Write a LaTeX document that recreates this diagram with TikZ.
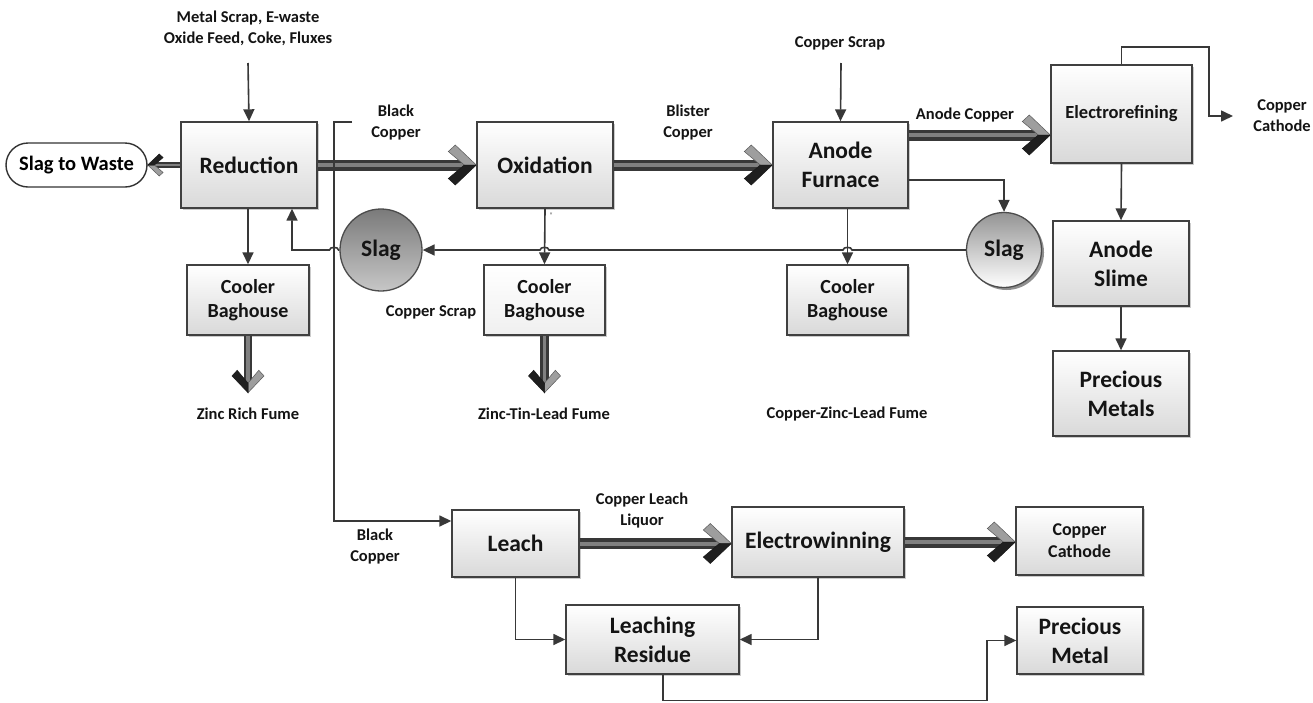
\documentclass[tikz,border=0pt]{standalone}
\usepackage{fontspec}
\setmainfont{Carlito}
\usetikzlibrary{arrows.meta,shadows,calc}
\newcommand\fatarrow[4][1]{%
  \draw[line width=#1*11pt, draw=black!78, shorten >=#1*10pt] (#2) -- (#3);
  \draw[line width=#1*4pt, draw=black!50, shorten >=#1*12pt, shorten <=0.6pt] (#2) -- (#3);
  \begin{scope}[shift={(#3)}, rotate=#4, scale=#1]
    \filldraw[fill=black!38, draw=black!65, line width=0.5pt] (0,0) -- (-21,-20) -- (-28,-13.5) -- (-12,0) -- cycle;
    \filldraw[fill=black!88, draw=black!90, line width=0.5pt] (0,0) -- (-21,20) -- (-28,13.5) -- (-12,0) -- cycle;
  \end{scope}}
\begin{document}
\begin{tikzpicture}[x=1pt,y=-1pt,
  box/.style={rectangle, draw=black!75, line width=1.4pt, top color=white, bottom color=black!15,
    drop shadow={shadow xshift=2pt,shadow yshift=-2pt,fill=black!40,opacity=0.5},
    align=center, inner sep=0pt, text=black!92, font=\bfseries\fontsize{23.5}{29}\selectfont},
  midbox/.style={box, font=\bfseries\fontsize{20}{24}\selectfont},
  lbl/.style={align=center, inner sep=0pt, text=black!92, font=\bfseries\fontsize{16.5}{21}\selectfont},
  conn/.style={draw=black!78, line width=1.6pt},
  tip/.style={-{Triangle[length=12pt,width=11pt]}},
  slag/.style={circle, draw=black!70, line width=1.3pt, inner sep=0pt, text=black!92,
    font=\bfseries\fontsize{23.5}{29}\selectfont}
]
\fill[white] (0,0) rectangle (1313,702);
\useasboundingbox (0,0) rectangle (1313,702);

% ---------- nodes ----------
\node[box, minimum width=136pt, minimum height=86pt] (red) at (249,165) {Reduction};
\node[box, minimum width=136pt, minimum height=86pt] (ox) at (545,165) {Oxidation};
\node[box, minimum width=135pt, minimum height=86pt] (af) at (840.5,165) {Anode\\Furnace};
\node[box, minimum width=141pt, minimum height=98pt, font=\bfseries\fontsize{18.5}{22}\selectfont] (er) at (1121.5,114) {Electrorefining};
\node[box, minimum width=136pt, minimum height=85pt] (sl) at (1121,263.5) {Anode\\Slime};
\node[box, minimum width=136pt, minimum height=85pt] (pm) at (1121,393.5) {Precious\\Metals};
\node[midbox, minimum width=122pt, minimum height=70pt] (cb1) at (248,300) {Cooler\\Baghouse};
\node[midbox, minimum width=121pt, minimum height=70pt, top color=white, bottom color=black!6] (cb2) at (544.5,300) {Cooler\\Baghouse};
\node[midbox, minimum width=121pt, minimum height=70pt] (cb3) at (847.5,300) {Cooler\\Baghouse};
\node[rectangle, rounded corners=22pt, draw=black!80, line width=1.4pt, fill=white, minimum width=141pt, minimum height=44pt,
  inner sep=0pt, font=\bfseries\fontsize{20.5}{24}\selectfont] (sw) at (76.5,165) {Slag to Waste};
\node[slag, minimum size=82pt, top color=black!52, bottom color=black!22] (s1) at (381,250) {Slag};
\node[slag, minimum size=75pt, top color=black!42, bottom color=white,
  drop shadow={shadow xshift=2.5pt,shadow yshift=-2.5pt,fill=black!55,opacity=0.8}] (s2) at (1004,250) {Slag};
\node[box, minimum width=127pt, minimum height=67pt] (leach) at (515.5,543.5) {Leach};
\node[box, minimum width=172pt, minimum height=70pt] (ew) at (818,542) {Electrowinning};
\node[box, minimum width=127pt, minimum height=68pt, font=\bfseries\fontsize{18}{22}\selectfont] (cc) at (1079.5,541) {Copper\\Cathode};
\node[box, minimum width=126pt, minimum height=67pt] (pmet) at (1080,640.5) {Precious\\Metal};
\node[box, minimum width=173pt, minimum height=69pt] (lr) at (652.5,639.5) {Leaching\\Residue};

% ---------- labels ----------
\node[lbl] (in1) at (248,28) {Metal Scrap, E-waste\\Oxide Feed, Coke, Fluxes};
\node[lbl] (cs1) at (840,43) {Copper Scrap};
\node[lbl] (bc1) at (396,123) {Black\\Copper};
\node[lbl] (bl) at (688,123) {Blister\\Copper};
\node[lbl] (ac) at (965,115) {Anode Copper};
\node[lbl] (cc2) at (1282,116) {Copper\\Cathode};
\node[lbl] (cs2) at (431,312) {Copper Scrap};
\node[lbl] (zf) at (248,414) {Zinc Rich Fume};
\node[lbl] (ztl) at (544,414) {Zinc-Tin-Lead Fume};
\node[lbl] (czl) at (847,414) {Copper-Zinc-Lead Fume};
\node[lbl] (bc2) at (375,546) {Black\\Copper};
\node[lbl] (cll) at (642,510) {Copper Leach\\Liquor};
\node[inner sep=0pt, text=black!60, font=\fontsize{8}{8}\selectfont] (tick) at (551,216) {``};

% ---------- coordinates ----------
\coordinate (inTop) at (248,63);
\coordinate (csTop) at (841,63);
\coordinate (bcStart) at (352,122);
\coordinate (bcCorner) at (334,122);
\coordinate (erLoop) at (1209,47);
\coordinate (ccEnd) at (1233,116);
\coordinate (acS) at ($(af.east)+(0,-30)$);
\coordinate (acE) at (acS -| er.west);
\coordinate (f1) at ($(cb1.south)+(0,57)$);
\coordinate (f2) at ($(cb2.south)+(0,57)$);
\coordinate (lwE) at (leach.east -| ew.west);
\coordinate (ccE) at (ew.east -| cc.west);
\coordinate (botL) at (663,700.5);
\coordinate (botR) at (987,700.5);
\coordinate (hopA) at (s2.west -| cb3.north);
\coordinate (hopB) at (s2.west -| cb2.north);
\coordinate (hopC) at (s1.west -| bcCorner);
\coordinate (redUp) at ($(red.south)+(43,0)$);

% ---------- fat arrows ----------
\fatarrow{red.east}{ox.west}{0}
\fatarrow{ox.east}{af.west}{0}
\fatarrow{acS}{acE}{0}
\fatarrow[0.55]{red.west}{sw.east}{180}
\fatarrow[0.8]{cb1.south}{f1}{-90}
\fatarrow[0.8]{cb2.south}{f2}{-90}
\fatarrow{leach.east}{lwE}{0}
\fatarrow{ew.east}{ccE}{0}

% ---------- thin connectors ----------
\draw[conn,tip] (inTop) -- (red.north);
\draw[conn,tip] (csTop) -- (af.north);
\draw[conn,tip] (cb1.north |- red.south) -- (cb1.north);
\draw[conn,tip] (ox.south) -- (cb2.north);
\draw[conn,tip] (cb3.north |- af.south) -- (cb3.north);
\draw[conn,tip] (er.south) -- (sl.north);
\draw[conn,tip] (sl.south) -- (pm.north);
\draw[conn,tip] (er.north) |- (erLoop) |- (ccEnd);
\draw[conn,tip] ($(af.east)+(0,15)$) -| (s2.north);
\draw[conn,tip] (s2.west) -- ($(hopA)+(4.5,0)$) to[out=90,in=90] ($(hopA)+(-4.5,0)$)
  -- ($(hopB)+(4.5,0)$) to[out=90,in=90] ($(hopB)+(-4.5,0)$) -- (s1.east);
\draw[conn,tip] (s1.west) -- ($(hopC)+(4.5,0)$) to[out=90,in=90] ($(hopC)+(-4.5,0)$) -| (redUp);
\draw[conn,tip] (bcStart) -- (bcCorner) |- ($(leach.west)+(0,-22.5)$);
\draw[conn,tip] (leach.south) |- (lr.west);
\draw[conn,tip] (ew.south) |- (lr.east);
\draw[conn,tip] (lr.south -| botL) -- (botL) -- (botR) |- (pmet.west);
\end{tikzpicture}
\end{document}
